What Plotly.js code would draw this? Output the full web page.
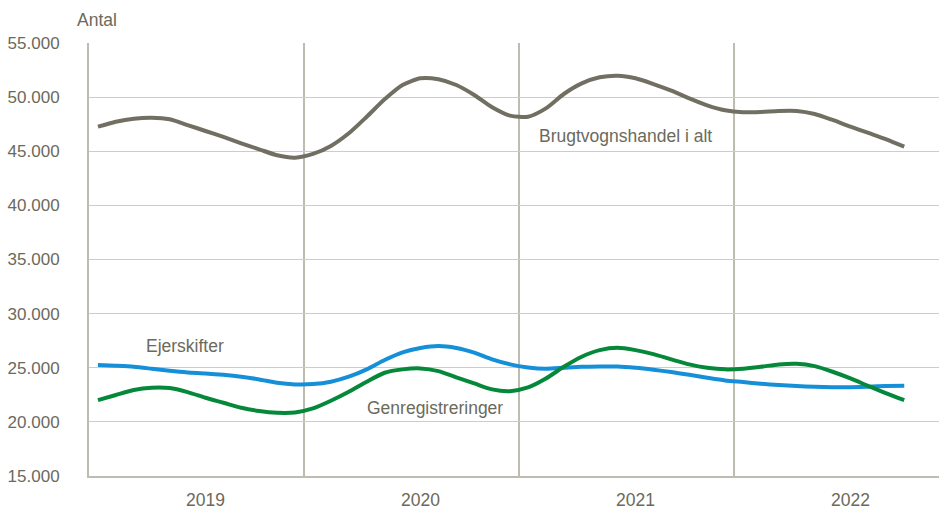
<!DOCTYPE html>
<html><head><meta charset="utf-8">
<script src="https://cdn.plot.ly/plotly-3.0.1.min.js"></script>
<style>html,body{margin:0;padding:0;background:#fff;}#chart{width:939px;height:510px;}</style>
</head><body><div id="chart"></div>
<script>
// Months Jan 2019 .. Oct 2022 (index 0..45)
const months = Array.from({length: 46}, (_, i) => i);
const years = ['2019', '2020', '2021', '2022'];
const yearCenters = [5.5, 17.5, 29.5, 41.5];
const yearBounds = [11.5, 23.5, 35.5];

const brugtvognshandel = [47270,47730,48010,48100,47950,47420,46870,46320,45730,45180,44630,44410,
  44750,45490,46660,48190,49800,51120,51740,51650,51120,50200,49060,48290,
  48190,48960,50290,51270,51830,51980,51740,51210,50600,49890,49240,48780,
  48600,48630,48720,48720,48440,47890,47270,46690,46100,45420];
const ejerskifter = [25250,25180,25090,24910,24720,24570,24480,24350,24170,23920,23610,23460,
  23490,23710,24170,24850,25710,26420,26820,27000,26820,26390,25770,25310,
  25030,24910,25000,25090,25120,25120,25000,24820,24600,24350,24080,23830,
  23680,23520,23400,23310,23250,23210,23210,23250,23310,23340];
const genregistreringer = [22010,22480,22940,23150,23120,22750,22230,21770,21300,21000,20840,20870,
  21240,21950,22780,23710,24540,24850,24940,24690,24110,23550,23000,22840,
  23180,24010,25090,26020,26630,26850,26630,26260,25770,25310,25000,24850,
  24910,25090,25310,25370,25150,24630,24010,23310,22630,22010];

const FONT = '"Liberation Sans", Arial, sans-serif';
const TXT = '#6b6a5c';

function tr(y, color){
  return {x: months, y: y, type: 'scatter', mode: 'lines',
    line: {color: color, width: 4, shape: 'spline', smoothing: 0.7}, hoverinfo: 'skip'};
}
const data = [
  tr(brugtvognshandel, '#716f61'),
  tr(ejerskifter, '#1590d8'),
  tr(genregistreringer, '#06883a')
];

const annotations = years.map((t, i) => ({
  x: yearCenters[i], y: 0, xref: 'x', yref: 'paper', text: t, showarrow: false,
  yanchor: 'middle', yshift: -24, xshift: 9, font: {family: FONT, size: 17.5, color: TXT}
}));
annotations.push({x: 0, y: 1, xref: 'paper', yref: 'paper', text: 'Antal', showarrow: false,
  xanchor: 'left', yanchor: 'middle', xshift: -14, yshift: 23, font: {family: FONT, size: 17.5, color: TXT}});
annotations.push({x: 24.5, y: 46410, xref: 'x', yref: 'y', text: 'Brugtvognshandel i alt', showarrow: false,
  xanchor: 'left', yanchor: 'middle', font: {family: FONT, size: 17.5, color: TXT}});
annotations.push({x: 2.57, y: 27000, xref: 'x', yref: 'y', text: 'Ejerskifter', showarrow: false,
  xanchor: 'left', yanchor: 'middle', font: {family: FONT, size: 17.5, color: TXT}});
annotations.push({x: 14.9, y: 21280, xref: 'x', yref: 'y', text: 'Genregistreringer', showarrow: false,
  xanchor: 'left', yanchor: 'middle', font: {family: FONT, size: 17.5, color: TXT}});

const shapes = yearBounds.map(b => ({type: 'line', xref: 'x', yref: 'paper', x0: b, x1: b, y0: 0, y1: 1,
  line: {color: '#bebcae', width: 2}, layer: 'below'}));

const layout = {
  width: 939, height: 510,
  margin: {l: 89, r: 0, t: 43, b: 34},
  paper_bgcolor: '#fff', plot_bgcolor: '#fff',
  separators: ',.',
  showlegend: false,
  xaxis: {range: [-0.5, 46.94], showgrid: false, zeroline: false, showticklabels: false,
    showline: true, linecolor: '#bebcae', linewidth: 2, mirror: false, ticks: ''},
  yaxis: {range: [15000, 55000], tickvals: [15000,20000,25000,30000,35000,40000,45000,50000,55000],
    tickformat: ',d', showgrid: true, gridcolor: '#cfcdc1', gridwidth: 1, zeroline: false,
    showline: true, linecolor: '#bebcae', linewidth: 2, ticks: '', ticklabelstandoff: 24,
    tickfont: {family: FONT, size: 17, color: TXT}},
  annotations: annotations,
  shapes: shapes
};
Plotly.newPlot('chart', data, layout, {displayModeBar: false, staticPlot: true});
</script></body></html>
